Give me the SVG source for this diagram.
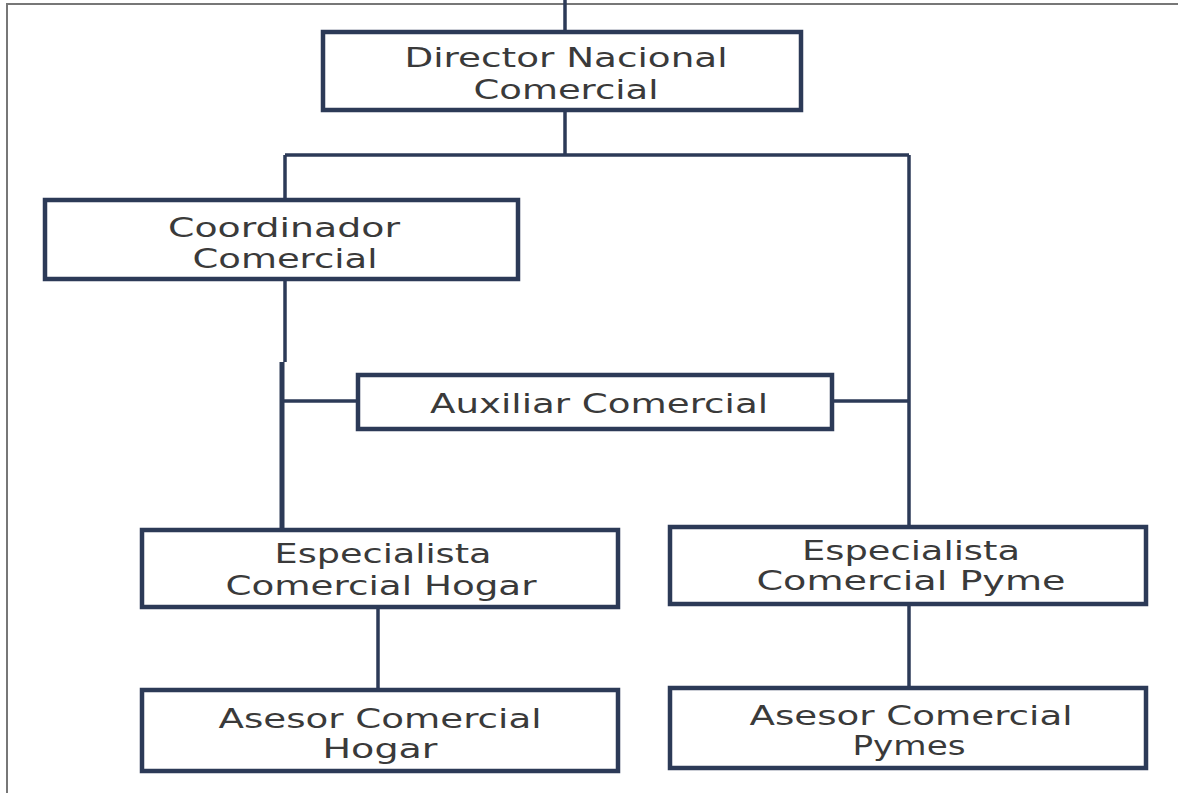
<svg xmlns="http://www.w3.org/2000/svg" width="1178" height="793" viewBox="0 0 1178 793">
<style>
.box{fill:#ffffff;stroke:#2c3a57;stroke-width:4.5}
.ln{fill:none;stroke:#2c3a57;stroke-width:3.5}
.t{font-family:"DejaVu Sans",Verdana,sans-serif;font-size:26px;fill:#3a3a3a;text-anchor:middle}
</style>
<rect x="0" y="0" width="1178" height="793" fill="#ffffff"/>
<path d="M7,793 V4 H1178" fill="none" stroke="#777" stroke-width="2"/>
<g id="connectors">
<path class="ln" d="M565,0 V32"/>
<path class="ln" d="M565,110 V155"/>
<path class="ln" d="M285,155 H909"/>
<path class="ln" d="M285,155 V200"/>
<path class="ln" d="M285,279 V362"/>
<path class="ln" d="M282,362 V530" style="stroke-width:5"/>
<path class="ln" d="M282,401 H358"/>
<path class="ln" d="M832,401 H909"/>
<path class="ln" d="M909,155 V527"/>
<path class="ln" d="M378,607 V690"/>
<path class="ln" d="M909,604 V688"/>
</g>
<g id="director">
<rect class="box" x="323" y="32" width="478" height="78"/>
<text class="t" x="566" y="67" textLength="323" lengthAdjust="spacingAndGlyphs">Director Nacional</text>
<text class="t" x="566" y="99" textLength="185" lengthAdjust="spacingAndGlyphs">Comercial</text>
</g>
<g id="coordinador">
<rect class="box" x="45" y="200" width="473" height="79"/>
<text class="t" x="284" y="237" textLength="232" lengthAdjust="spacingAndGlyphs">Coordinador</text>
<text class="t" x="285" y="268" textLength="185" lengthAdjust="spacingAndGlyphs">Comercial</text>
</g>
<g id="auxiliar">
<rect class="box" x="358" y="375" width="474" height="54"/>
<text class="t" x="599" y="413" textLength="338" lengthAdjust="spacingAndGlyphs">Auxiliar Comercial</text>
</g>
<g id="especialista-hogar">
<rect class="box" x="142" y="530" width="476" height="77"/>
<text class="t" x="383" y="563" textLength="217" lengthAdjust="spacingAndGlyphs">Especialista</text>
<text class="t" x="381" y="595" textLength="311" lengthAdjust="spacingAndGlyphs">Comercial Hogar</text>
</g>
<g id="especialista-pyme">
<rect class="box" x="670" y="527" width="476" height="77"/>
<text class="t" x="911" y="560" textLength="218" lengthAdjust="spacingAndGlyphs">Especialista</text>
<text class="t" x="911" y="590" textLength="309" lengthAdjust="spacingAndGlyphs">Comercial Pyme</text>
</g>
<g id="asesor-hogar">
<rect class="box" x="142" y="690" width="476" height="81"/>
<text class="t" x="380" y="728" textLength="323" lengthAdjust="spacingAndGlyphs">Asesor Comercial</text>
<text class="t" x="380" y="758" textLength="115" lengthAdjust="spacingAndGlyphs">Hogar</text>
</g>
<g id="asesor-pymes">
<rect class="box" x="670" y="688" width="476" height="80"/>
<text class="t" x="911" y="725" textLength="323" lengthAdjust="spacingAndGlyphs">Asesor Comercial</text>
<text class="t" x="909" y="755" textLength="113" lengthAdjust="spacingAndGlyphs">Pymes</text>
</g>
</svg>
